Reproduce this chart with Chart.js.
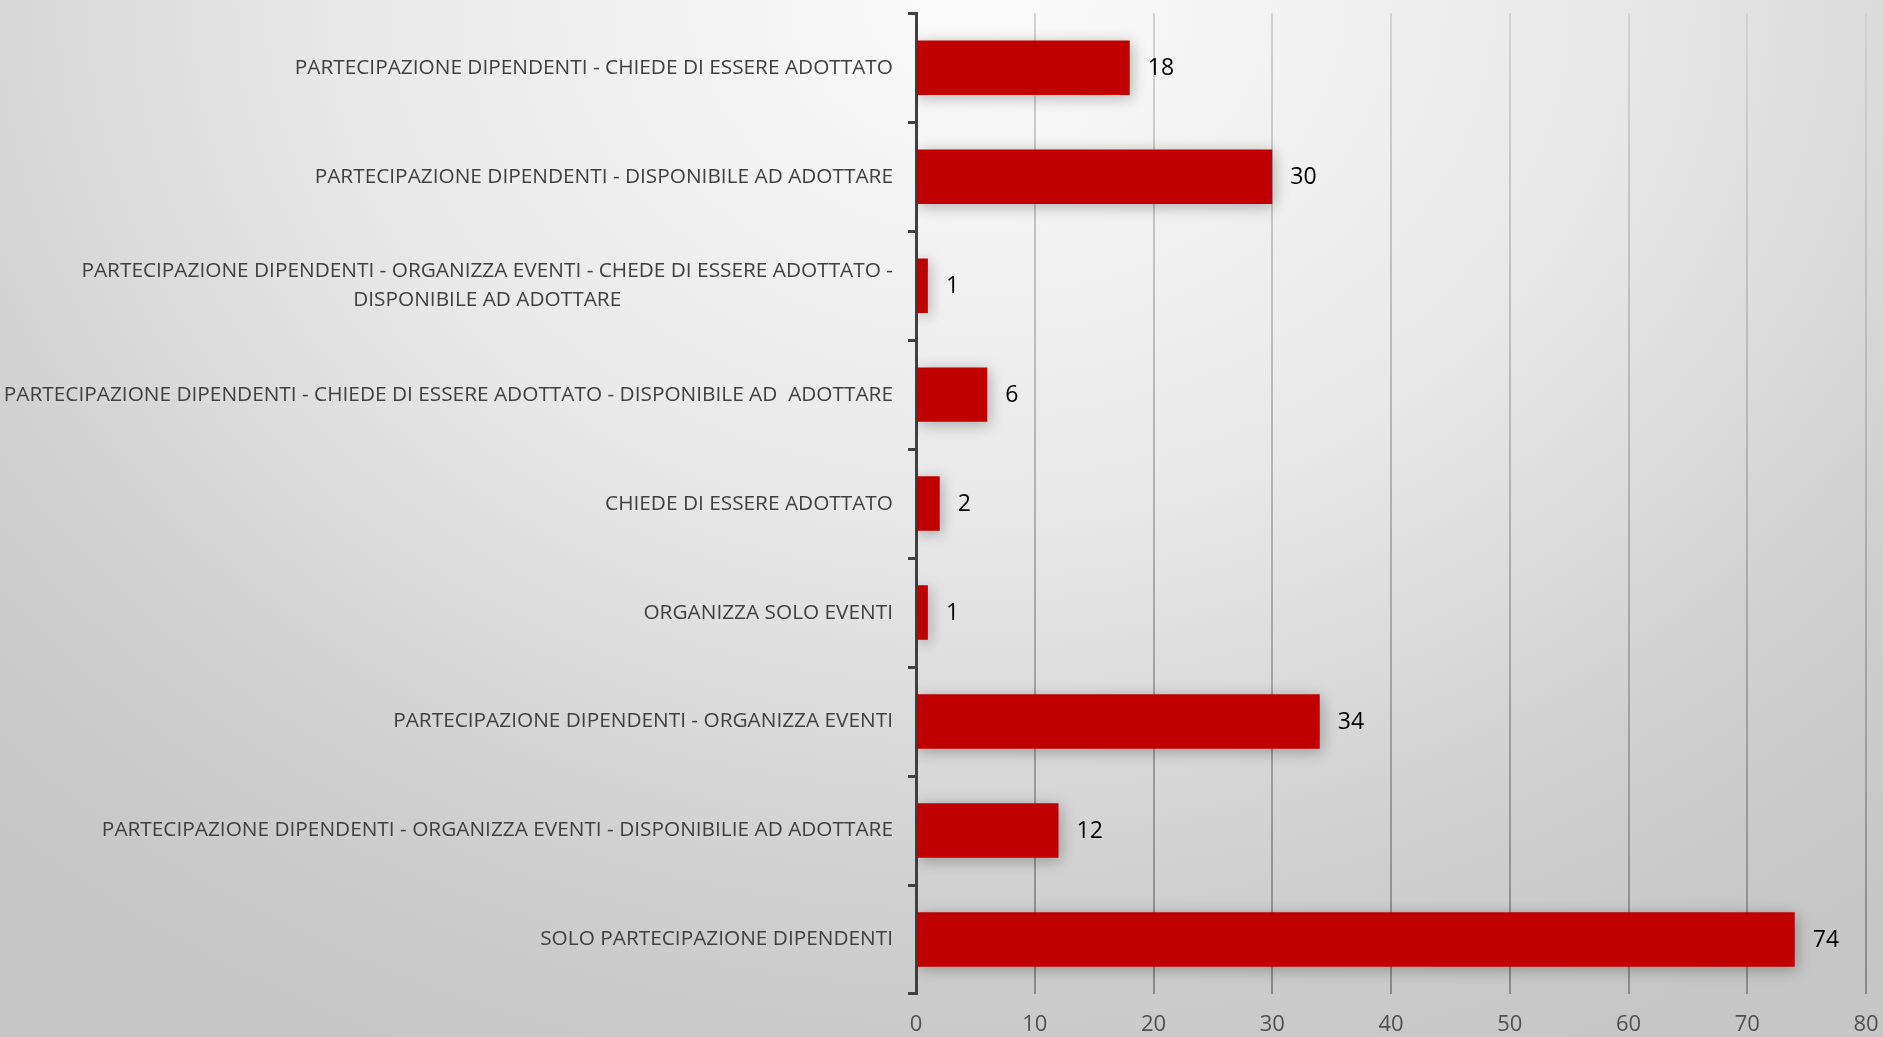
<!DOCTYPE html>
<html lang="it">
<head>
  <meta charset="UTF-8">
  <title>Partecipazione</title>
  <style>
    html, body {
      margin: 0;
      padding: 0;
      width: 1883px;
      height: 1037px;
      overflow: hidden;
    }
    body {
      background: radial-gradient(ellipse 75% 110% at 52% 0%, #fbfbfb 0%, #e8e8e8 45%, #cfcfcf 80%, #c6c6c6 100%);
    }
    canvas {
      display: block;
    }
  </style>
  <script src="https://cdn.jsdelivr.net/npm/chart.js"></script>
</head>
<body>
  <canvas id="chart" width="1883" height="1037"></canvas>

  <script>
    const categories = [
      'PARTECIPAZIONE DIPENDENTI - CHIEDE DI ESSERE ADOTTATO',
      'PARTECIPAZIONE DIPENDENTI - DISPONIBILE AD ADOTTARE',
      ['PARTECIPAZIONE DIPENDENTI - ORGANIZZA EVENTI - CHEDE DI ESSERE ADOTTATO -', 'DISPONIBILE AD ADOTTARE'],
      'PARTECIPAZIONE DIPENDENTI - CHIEDE DI ESSERE ADOTTATO - DISPONIBILE AD  ADOTTARE',
      'CHIEDE DI ESSERE ADOTTATO',
      'ORGANIZZA SOLO EVENTI',
      'PARTECIPAZIONE DIPENDENTI - ORGANIZZA EVENTI',
      'PARTECIPAZIONE DIPENDENTI - ORGANIZZA EVENTI - DISPONIBILIE AD ADOTTARE',
      'SOLO PARTECIPAZIONE DIPENDENTI'
    ];
    const values = [18, 30, 1, 6, 2, 1, 34, 12, 74];
    const xMin = 0;
    const xMax = 80;
    const xStep = 10;

    const labelFont = '20.8px "Open Sans", sans-serif';
    const numberFont = '23px "Open Sans", sans-serif';

    // soft shadow under the bars
    const barShadow = {
      id: 'barShadow',
      beforeDatasetsDraw(chart) {
        const ctx = chart.ctx;
        ctx.save();
        ctx.shadowColor = 'rgba(0, 0, 0, 0.28)';
        ctx.shadowBlur = 14;
        ctx.shadowOffsetX = 2;
        ctx.shadowOffsetY = 3;
      },
      afterDatasetsDraw(chart) {
        chart.ctx.restore();
      }
    };

    // value labels right of each bar + category labels with centered lines
    const textLayer = {
      id: 'textLayer',
      afterDraw(chart) {
        const ctx = chart.ctx;
        const meta = chart.getDatasetMeta(0);
        const yScale = chart.scales.y;
        ctx.save();
        ctx.fillStyle = '#000';
        ctx.font = numberFont;
        ctx.textAlign = 'left';
        ctx.textBaseline = 'middle';
        meta.data.forEach((bar, i) => {
          ctx.fillText(String(values[i]), bar.x + 18, bar.y + 1);
        });

        ctx.fillStyle = '#404040';
        ctx.font = labelFont;
        ctx.textAlign = 'center';
        const right = yScale.right - 23;
        categories.forEach((lab, i) => {
          const lines = Array.isArray(lab) ? lab : [lab];
          const w = Math.max(...lines.map(l => ctx.measureText(l).width));
          const cx = right - w / 2;
          const y = yScale.getPixelForValue(i);
          const lh = 29;
          const y0 = y - (lines.length - 1) * lh / 2;
          lines.forEach((l, k) => ctx.fillText(l, cx, y0 + k * lh));
        });
        ctx.restore();
      }
    };

    const ctx = document.getElementById('chart').getContext('2d');

    const gridColor = (context) => {
      const area = context.chart.chartArea;
      if (!area) return '#a8a8a8';
      const g = context.chart.ctx.createLinearGradient(0, area.top, 0, area.bottom);
      g.addColorStop(0, '#d2d2d2');
      g.addColorStop(0.5, '#b0b0b0');
      g.addColorStop(1, '#8a8a8a');
      return g;
    };

    new Chart(ctx, {
      type: 'bar',
      data: {
        labels: categories,
        datasets: [{
          data: values,
          backgroundColor: '#c00000',
          borderWidth: 0,
          barPercentage: 0.5,
          categoryPercentage: 1.0
        }]
      },
      options: {
        indexAxis: 'y',
        responsive: false,
        animation: false,
        devicePixelRatio: 1,
        layout: {
          padding: { top: 12, right: 17, left: 0, bottom: 0 }
        },
        plugins: {
          legend: { display: false },
          tooltip: { enabled: false }
        },
        scales: {
          x: {
            min: xMin,
            max: xMax,
            ticks: {
              stepSize: xStep,
              color: '#505050',
              font: { family: '"Open Sans", sans-serif', size: 22 },
              padding: 18
            },
            grid: {
              color: (c) => c.tick && c.tick.value === 0 ? 'rgba(0,0,0,0)' : gridColor(c),
              lineWidth: 2,
              drawTicks: false
            },
            border: { display: false },
            afterFit(scale) {
              scale.height = 43;
              scale.paddingRight = 0;
              scale.paddingLeft = 0;
            }
          },
          y: {
            offset: true,
            ticks: {
              color: 'rgba(0,0,0,0)',
              font: { size: 17 }
            },
            grid: {
              offset: true,
              drawOnChartArea: false,
              drawTicks: true,
              tickLength: 8,
              tickWidth: 3,
              tickColor: '#404040'
            },
            border: {
              display: true,
              color: '#404040',
              width: 3
            },
            afterFit(scale) { scale.width = 916; }
          }
        }
      },
      plugins: [barShadow, textLayer]
    });
  </script>
</body>
</html>
